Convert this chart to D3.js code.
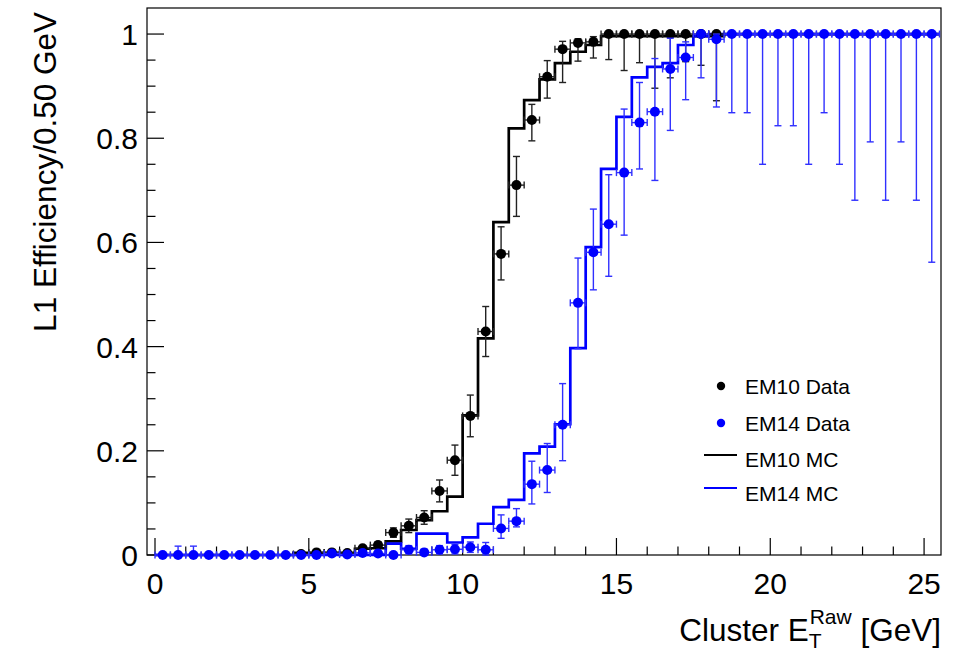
<!DOCTYPE html>
<html><head><meta charset="utf-8">
<script src="https://cdn.jsdelivr.net/npm/d3@7"></script>
<style>body{margin:0;background:#fff;} svg{display:block;font-family:"Liberation Sans",Arial,sans-serif;}</style>
</head><body>
<svg id="c" width="955" height="653"></svg>
<script>
// ---------- DATA ----------
const em10DataX = [4.75,5.25,5.75,6.25,6.75,7.25,7.75,8.25,8.75,9.25,9.75,10.25,10.75,11.25,11.75,12.25,12.75,13.25,13.75,14.25,14.75,15.25,15.75,16.25,16.75,17.25,17.75,18.25];
const em10DataY = [0.002,0.005,0.005,0.004,0.013,0.019,0.043,0.056,0.072,0.123,0.182,0.267,0.429,0.578,0.710,0.835,0.918,0.971,0.983,0.985,1,1,1,1,1,1,1,1];
const em10ErrLo = [0.002,0.003,0.003,0.003,0.005,0.006,0.009,0.013,0.013,0.021,0.029,0.040,0.048,0.050,0.060,0.040,0.041,0.064,0.035,0.031,0.049,0.070,0.055,0.104,0.084,0.053,0.060,0.128];
const em10ErrHi = [0.002,0.003,0.003,0.003,0.005,0.006,0.009,0.013,0.013,0.021,0.029,0.040,0.048,0.052,0.055,0.030,0.031,0.015,0.008,0.010,0,0,0,0,0,0,0,0];

const em14DataX = [0.25,0.75,1.25,1.75,2.25,2.75,3.25,3.75,4.25,4.75,5.25,5.75,6.25,6.75,7.25,7.75,8.25,8.75,9.25,9.75,10.25,10.75,11.25,11.75,12.25,12.75,13.25,13.75,14.25,14.75,15.25,15.75,16.25,16.75,17.25,17.75,18.25,18.75,19.25,19.75,20.25,20.75,21.25,21.75,22.25,22.75,23.25,23.75,24.25,24.75,25.25];
const em14DataY = [0,0,0,0,0,0,0,0,0,0,0,0.003,0.001,0.004,0.003,0,0.010,0.005,0.010,0.011,0.015,0.010,0.051,0.065,0.136,0.163,0.250,0.484,0.581,0.635,0.734,0.830,0.851,0.933,0.955,1,0.990,1,1,1,1,1,1,1,1,1,1,1,1,1,1];
const em14ErrLo = [0,0,0,0,0,0,0,0,0,0,0,0.003,0.001,0.004,0.003,0,0.008,0.005,0.008,0.009,0.010,0.010,0.019,0.011,0.038,0.043,0.069,0.088,0.072,0.100,0.120,0.089,0.132,0.118,0.081,0.084,0.130,0.151,0.151,0.250,0.176,0.176,0.250,0.151,0.250,0.319,0.207,0.319,0.207,0.319,0.438];
const em14ErrHi = [0,0.017,0.017,0,0,0,0,0,0,0,0,0.004,0.003,0.004,0.004,0.004,0.008,0.006,0.008,0.009,0.010,0.014,0.026,0.024,0.044,0.051,0.079,0.086,0.083,0.095,0.122,0.077,0.102,0.059,0.030,0,0.010,0,0,0,0,0,0,0,0,0,0,0,0,0,0];

const mcEdges = [0,0.5,1,1.5,2,2.5,3,3.5,4,4.5,5,5.5,6,6.5,7,7.5,8,8.5,9,9.5,10,10.5,11,11.5,12,12.5,13,13.5,14,14.5,15,15.5,16,16.5,17,17.5,18,18.5,19,19.5,20,20.5,21,21.5,22,22.5,23,23.5,24,24.5,25,25.5];
const em10MC = [0,0,0,0,0,0,0,0,0,0.004,0.004,0.004,0.004,0.012,0.013,0.026,0.048,0.067,0.084,0.112,0.268,0.416,0.639,0.819,0.873,0.913,0.944,0.966,0.979,0.996,0.996,0.996,0.996,0.996,0.996,0.996,0.996,1,1,1,1,1,1,1,1,1,1,1,1,1,1];
const em14MC = [0,0,0,0,0,0,0,0,0,0,0,0,0,0,0,0.022,0.012,0.041,0.041,0.024,0.034,0.060,0.092,0.106,0.195,0.208,0.251,0.397,0.591,0.741,0.841,0.917,0.937,0.944,0.979,0.996,1,1,1,1,1,1,1,1,1,1,1,1,1,1,1];

const xTickLabels = ["0","5","10","15","20","25"];
const yTickLabels = ["0","0.2","0.4","0.6","0.8","1"];
const legendLabels = ["EM10 Data","EM14 Data","EM10 MC","EM14 MC"];

// ---------- CHART ----------
const svg = d3.select("#c");
const L = 147, R = 941, T = 8, B = 555;
const x = d3.scaleLinear().domain([-0.26, 25.55]).range([L, R]);
const y = d3.scaleLinear().domain([0, 1.05]).range([B, T]);
const BLACK = "#000", BLUE = "#0000ff";

// frame
svg.append("rect").attr("x", L).attr("y", T).attr("width", R - L).attr("height", B - T)
  .attr("fill", "none").attr("stroke", "#000").attr("stroke-width", 1.2);

// x ticks (inside, pointing up)
const xt = svg.append("g");
d3.range(0, 26, 1).forEach(v => {
  const major = v % 5 === 0;
  xt.append("line").attr("x1", x(v)).attr("x2", x(v)).attr("y1", B).attr("y2", B - (major ? 17 : 8.5))
    .attr("stroke", "#000").attr("stroke-width", 1.2);
});
xTickLabels.forEach(t => {
  xt.append("text").attr("x", x(+t)).attr("y", B + 39).attr("text-anchor", "middle")
    .attr("font-size", 30).attr("fill", "#000").text(t);
});
// y ticks (inside, pointing right)
const yt = svg.append("g");
d3.range(0, 21, 1).forEach(i => {
  const v = i * 0.05;
  const major = i % 4 === 0;
  yt.append("line").attr("x1", L).attr("x2", L + (major ? 17 : 8.5)).attr("y1", y(v)).attr("y2", y(v))
    .attr("stroke", "#000").attr("stroke-width", 1.2);
});
yTickLabels.forEach(t => {
  yt.append("text").attr("x", L - 9).attr("y", y(+t) + 11).attr("text-anchor", "end")
    .attr("font-size", 30).attr("fill", "#000").text(t);
});

// axis titles
const xtitle = svg.append("text").attr("x", R).attr("y", 641).attr("text-anchor", "end")
  .attr("font-size", 31.5).attr("fill", "#000");
xtitle.append("tspan").text("Cluster E");
xtitle.append("tspan").attr("font-size", 21).attr("dy", 7).text("T");
xtitle.append("tspan").attr("font-size", 21).attr("dx", -12).attr("dy", -24).text("Raw");
xtitle.append("tspan").attr("dy", 17).text(" [GeV]");

svg.append("text").attr("transform", `translate(56,${T + 4}) rotate(-90)`).attr("text-anchor", "end")
  .attr("font-size", 31.5).attr("fill", "#000").text("L1 Efficiency/0.50 GeV");

// MC histograms
function mcPath(vals) {
  const pts = vals.map((v, i) => [mcEdges[i], v]);
  pts.push([mcEdges[vals.length], vals[vals.length - 1]]);
  return d3.line().x(d => x(d[0])).y(d => y(d[1])).curve(d3.curveStepAfter)(pts);
}
svg.append("path").attr("d", mcPath(em10MC)).attr("fill", "none").attr("stroke", BLACK).attr("stroke-width", 2.7);
svg.append("path").attr("d", mcPath(em14MC)).attr("fill", "none").attr("stroke", BLUE).attr("stroke-width", 2.7);

// data with error bars
function drawData(xs, ys, lo, hi, color, errColor) {
  const g = svg.append("g");
  xs.forEach((xv, i) => {
    const cx = x(xv), cy = y(ys[i]);
    const xl = x(xv - 0.25), xr = x(xv + 0.25);
    g.append("line").attr("x1", xl).attr("x2", xr).attr("y1", cy).attr("y2", cy).attr("stroke", errColor).attr("stroke-width", 1.4);
    [xl, xr].forEach(xx => g.append("line").attr("x1", xx).attr("x2", xx).attr("y1", cy - 3.5).attr("y2", cy + 3.5).attr("stroke", errColor).attr("stroke-width", 1.4));
    if (hi[i] > 0) {
      const yh = y(ys[i] + hi[i]);
      g.append("line").attr("x1", cx).attr("x2", cx).attr("y1", cy).attr("y2", yh).attr("stroke", errColor).attr("stroke-width", 1.4);
      g.append("line").attr("x1", cx - 3.5).attr("x2", cx + 3.5).attr("y1", yh).attr("y2", yh).attr("stroke", errColor).attr("stroke-width", 1.4);
    }
    if (lo[i] > 0) {
      const yl = y(ys[i] - lo[i]);
      g.append("line").attr("x1", cx).attr("x2", cx).attr("y1", cy).attr("y2", yl).attr("stroke", errColor).attr("stroke-width", 1.4);
      g.append("line").attr("x1", cx - 3.5).attr("x2", cx + 3.5).attr("y1", yl).attr("y2", yl).attr("stroke", errColor).attr("stroke-width", 1.4);
    }
    g.append("circle").attr("cx", cx).attr("cy", cy).attr("r", 5).attr("fill", color);
  });
}
drawData(em10DataX, em10DataY, em10ErrLo, em10ErrHi, BLACK, "#222");
drawData(em14DataX, em14DataY, em14ErrLo, em14ErrHi, BLUE, "#3030ff");

// legend
const lg = svg.append("g");
const legY = [386, 423, 459, 493];
lg.append("circle").attr("cx", 721).attr("cy", legY[0]).attr("r", 4.2).attr("fill", BLACK);
lg.append("circle").attr("cx", 721).attr("cy", legY[1]).attr("r", 4.2).attr("fill", BLUE);
lg.append("line").attr("x1", 704).attr("x2", 737).attr("y1", legY[2] - 4).attr("y2", legY[2] - 4).attr("stroke", BLACK).attr("stroke-width", 2);
lg.append("line").attr("x1", 704).attr("x2", 737).attr("y1", legY[3] - 5).attr("y2", legY[3] - 5).attr("stroke", BLUE).attr("stroke-width", 2);
legendLabels.forEach((t, i) => {
  lg.append("text").attr("x", 745).attr("y", legY[i] + 8).attr("font-size", 21).attr("fill", "#000").text(t);
});
</script>
</body></html>
